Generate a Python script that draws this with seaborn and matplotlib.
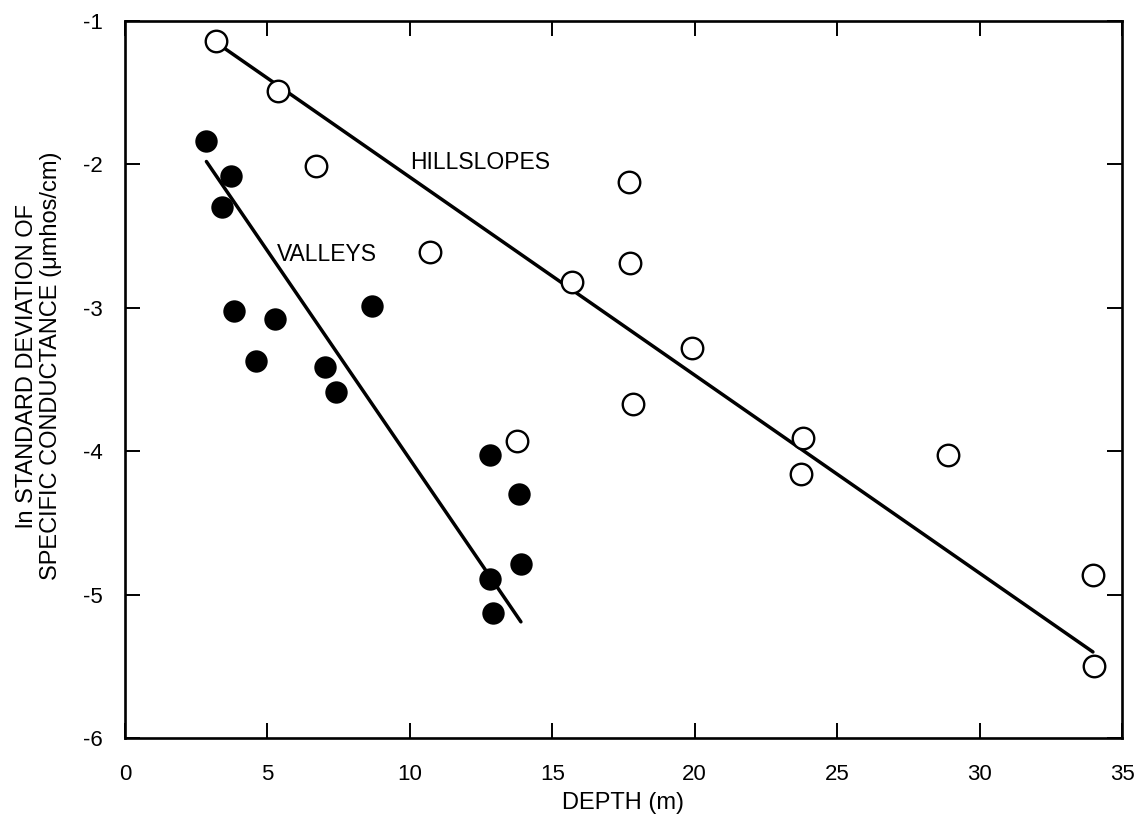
import matplotlib
matplotlib.use("Agg")
import matplotlib.pyplot as plt
import seaborn as sns
import pandas as pd

# Hillslopes (open circles)
hill_depth = [3.18, 5.36, 6.72, 10.7, 17.68, 15.69, 17.74, 19.9, 17.83,
              13.78, 23.8, 23.74, 28.88, 33.99, 34.03]
hill_value = [-1.14, -1.49, -2.01, -2.61, -2.12, -2.82, -2.69, -3.28, -3.67,
              -3.93, -3.91, -4.16, -4.03, -4.86, -5.50]

# Valleys (filled circles)
valley_depth = [2.86, 3.73, 3.39, 3.82, 5.26, 4.61, 7.01, 7.41, 8.67,
                12.8, 13.82, 13.9, 12.82, 12.92]
valley_value = [-1.84, -2.08, -2.30, -3.02, -3.08, -3.37, -3.41, -3.59, -2.99,
                -4.03, -4.30, -4.79, -4.89, -5.13]

# Fitted lines (end points)
hill_line_depth = [3.2, 33.98]
hill_line_value = [-1.15, -5.40]
valley_line_depth = [2.86, 13.9]
valley_line_value = [-1.98, -5.19]

x_ticks = [0, 5, 10, 15, 20, 25, 30, 35]
y_ticks = [-6, -5, -4, -3, -2, -1]

sns.set_theme(style="ticks")
plt.rcParams["font.family"] = ["Liberation Sans", "DejaVu Sans"]
plt.rcParams["axes.unicode_minus"] = False
plt.rcParams["text.color"] = "black"
plt.rcParams["axes.labelcolor"] = "black"

hill = pd.DataFrame({"depth": hill_depth, "value": hill_value})
valley = pd.DataFrame({"depth": valley_depth, "value": valley_value})
hill_fit = pd.DataFrame({"depth": hill_line_depth, "value": hill_line_value})
valley_fit = pd.DataFrame({"depth": valley_line_depth, "value": valley_line_value})

fig = plt.figure(figsize=(11.4, 8.23), dpi=100)
ax = fig.add_axes([0.1096, 0.1033, 0.8746, 0.8712])

sns.lineplot(data=hill_fit, x="depth", y="value", color="black",
             linewidth=2.5, ax=ax, zorder=2)
sns.lineplot(data=valley_fit, x="depth", y="value", color="black",
             linewidth=2.5, ax=ax, zorder=2)
sns.scatterplot(data=hill, x="depth", y="value", s=240, facecolor="white",
                edgecolor="black", linewidth=1.7, ax=ax, zorder=3)
sns.scatterplot(data=valley, x="depth", y="value", s=260, color="black",
                edgecolor="black", linewidth=0, ax=ax, zorder=3)

ax.text(10.02, -1.99, "HILLSLOPES", fontsize=16.5, ha="left", va="center",
        color="black")
ax.text(5.34, -2.63, "VALLEYS", fontsize=16.5, ha="left", va="center",
        color="black")

ax.set_xlim(0, 35)
ax.set_ylim(-6, -1)
ax.set_xticks(x_ticks)
ax.set_yticks(y_ticks)
ax.tick_params(direction="in", length=11, width=1.4, top=True, right=True,
               labelsize=16, color="black", labelcolor="black")
ax.tick_params(axis="x", pad=19)
ax.tick_params(axis="y", pad=16)
for sp in ax.spines.values():
    sp.set_linewidth(1.9)
    sp.set_color("black")

ax.set_xlabel("DEPTH (m)", fontsize=17, labelpad=5, color="black")
ax.set_ylabel("")
fig.text(0.034, 0.555, "ln STANDARD DEVIATION OF\nSPECIFIC CONDUCTANCE (\u03bcmhos/cm)",
         rotation=90, ha="center", va="center", fontsize=17, linespacing=1.1,
         color="black")

fig.savefig("out.png", dpi=100, facecolor="white")
